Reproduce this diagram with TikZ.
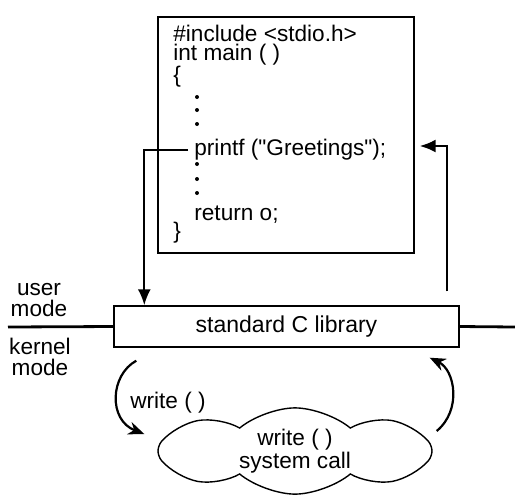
\documentclass[tikz,border=0pt]{standalone}
\usepackage{fontspec}
\setmainfont{Liberation Sans}
\newfontfamily\codefont{Liberation Sans}
\usetikzlibrary{shapes.symbols, arrows.meta}

\tikzset{
    codeline/.style={anchor=west, inner sep=0pt, font=\codefont\fontsize{11.3}{11}\selectfont},
    modelabel/.style={align=center, inner sep=0pt, font=\fontsize{11.3}{10.5}\selectfont},
    flow/.style={line width=1.1pt, -{Latex[length=8pt,width=6.5pt]}},
    curvearrow/.style={line width=1.1pt, -{Stealth[length=8pt,width=6.5pt]}}
}

\begin{document}
\begin{tikzpicture}[x=0.5pt, y=-0.5pt]
    \useasboundingbox (0,0) rectangle (515,500);
    % program box
    \node[draw, line width=0.7pt, minimum width=128pt, minimum height=118pt] (prog) at (286,135) {};
    \node[codeline] (inc) at (173,33) {\#include <stdio.h>};
    \node[codeline] (main) at (173,55) {int main ( )};
    \node[codeline] (open) at (173,77) {\{};
    \foreach \y in {97,110,124,164,179,193}
        \fill (197,\y) circle (2);
    \node[codeline] (printf) at (194,150) {printf ("Greetings");};
    \node[codeline] (ret) at (194,215) {return o;};
    \node[codeline] (close) at (173,233) {\}};
    % mode line
    \node[draw, line width=0.7pt, minimum width=172.5pt, minimum height=20.5pt,
          font=\fontsize{11.5}{11}\selectfont] (lib) at (286.5,326.5) {standard C library};
    \coordinate (left) at (8,327);
    \coordinate (right) at (515,327);
    \draw[line width=1.4pt] (left) -- (lib.west);
    \draw[line width=1.4pt] (lib.east) -- (right);
    \node[modelabel] (user) at (39,300) {user\\mode};
    \node[modelabel] (kernel) at (40,357) {kernel\\mode};
    % call and return
    \draw[flow] ([xshift=-3pt]printf.west) -| ([xshift=15.5pt]lib.north west);
    \path (prog.east |- printf.center) ++(5,-4) coordinate (back);
    \draw[flow] ([xshift=-6.5pt,yshift=7pt]lib.north east) |- (back);
    % system call
    \node[cloud, draw, line width=0.7pt, cloud puffs=8, cloud puff arc=80, aspect=3.3,
          minimum width=137pt, minimum height=42pt, inner sep=0pt, align=center,
          font=\fontsize{11.3}{11.5}\selectfont] (sys) at (295,451) {write ( )\\system call};
    \node[modelabel] (wr) at (168,403) {write ( )};
    \draw[curvearrow] ([xshift=11.5pt,yshift=-6.5pt]lib.south west) .. controls (110,375) and (108,420) .. ([xshift=-6.5pt,yshift=8.5pt]sys.west);
    \draw[curvearrow] ([xshift=2pt,yshift=10pt]sys.east) .. controls (462,410) and (455,370) .. ([xshift=-15pt,yshift=-5pt]lib.south east);
\end{tikzpicture}
\end{document}
